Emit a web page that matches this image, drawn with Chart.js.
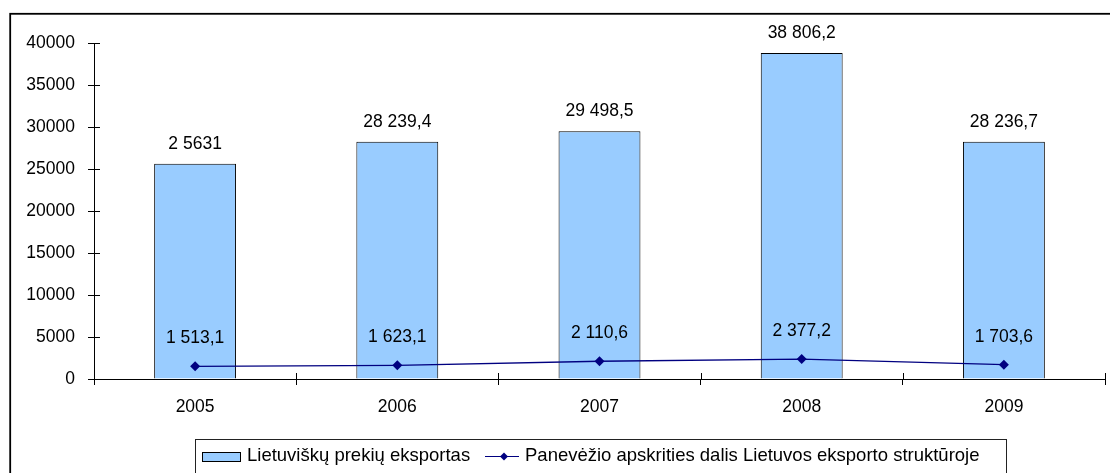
<!DOCTYPE html>
<html>
<head>
<meta charset="utf-8">
<script src="https://cdn.jsdelivr.net/npm/chart.js@4/dist/chart.umd.min.js"></script>
<style>
  html, body { margin: 0; padding: 0; background: #fff; }
  #wrap { width: 1110px; height: 473px; position: relative; }
</style>
</head>
<body>
<div id="wrap"><canvas id="c" width="1110" height="473"></canvas></div>
<script>
const categories = ['2005', '2006', '2007', '2008', '2009'];
const exportValues = [25631, 28239.4, 29498.5, 38806.2, 28236.7];
const exportLabels = ['2 5631', '28 239,4', '29 498,5', '38 806,2', '28 236,7'];
const shareValues = [1513.1, 1623.1, 2110.6, 2377.2, 1703.6];
const shareLabels = ['1 513,1', '1 623,1', '2 110,6', '2 377,2', '1 703,6'];
const seriesNames = ['Lietuviškų prekių eksportas', 'Panevėžio apskrities dalis Lietuvos eksporto struktūroje'];
const yTicks = [0, 5000, 10000, 15000, 20000, 25000, 30000, 35000, 40000];

const FONT = '"Liberation Sans", Arial, sans-serif';
const FS = 17.5;
const LFS = 18.5;

const framePlugin = {
  id: 'frame',
  beforeDraw(chart) {
    const ctx = chart.ctx;
    ctx.save();
    ctx.fillStyle = '#fff';
    ctx.fillRect(0, 0, chart.width, chart.height);
    ctx.strokeStyle = '#000';
    ctx.lineWidth = 1.8;
    ctx.strokeRect(10.2, 13.8, 1200, 600);
    ctx.restore();
  },
  afterDraw(chart) {
    const ctx = chart.ctx;
    const xs = chart.scales.x, ys = chart.scales.y;
    ctx.save();
    // inner halves of tick marks (reference ticks cross the axes)
    ctx.strokeStyle = '#000';
    ctx.lineWidth = 1;
    ctx.beginPath();
    yTicks.forEach(v => {
      const y = Math.round(ys.getPixelForValue(v)) + 0.5;
      ctx.moveTo(xs.left, y);
      ctx.lineTo(xs.left + 6, y);
    });
    const n = categories.length;
    for (let i = 0; i <= n; i++) {
      const x = Math.round(xs.left + (xs.right - xs.left) * i / n) + 0.5;
      ctx.moveTo(x, ys.bottom);
      ctx.lineTo(x, ys.bottom - 6);
    }
    ctx.stroke();

    ctx.font = FS + 'px ' + FONT;
    ctx.fillStyle = '#000';
    ctx.textAlign = 'center';
    ctx.textBaseline = 'middle';
    chart.data.datasets.forEach((ds, di) => {
      const meta = chart.getDatasetMeta(di);
      if (ds.type === 'bar') {
        meta.data.forEach((el, i) => ctx.fillText(exportLabels[i], el.x, el.y - 20));
      } else {
        meta.data.forEach((el, i) => ctx.fillText(shareLabels[i], el.x, el.y - 28));
      }
    });

    // legend
    ctx.font = LFS + 'px ' + FONT;
    ctx.strokeStyle = '#222';
    ctx.lineWidth = 1;
    ctx.strokeRect(195.5, 439.5, 811, 60);
    ctx.fillStyle = '#99ccff';
    ctx.fillRect(202, 452, 39, 10);
    ctx.strokeStyle = '#000';
    ctx.strokeRect(202.5, 452.5, 38, 9);
    ctx.fillStyle = '#000';
    ctx.textAlign = 'left';
    ctx.fillText(seriesNames[0], 247, 456);
    ctx.strokeStyle = '#000080';
    ctx.beginPath();
    ctx.moveTo(485, 456.5);
    ctx.lineTo(519, 456.5);
    ctx.stroke();
    ctx.fillStyle = '#000080';
    ctx.beginPath();
    ctx.moveTo(504, 452.5);
    ctx.lineTo(508, 456.5);
    ctx.lineTo(504, 460.5);
    ctx.lineTo(500, 456.5);
    ctx.closePath();
    ctx.fill();
    ctx.fillStyle = '#000';
    ctx.fillText(seriesNames[1], 525, 456);
    ctx.restore();
  }
};

new Chart(document.getElementById('c'), {
  data: {
    labels: categories,
    datasets: [
      {
        type: 'line',
        label: seriesNames[1],
        data: shareValues,
        borderColor: '#000080',
        backgroundColor: '#000080',
        borderWidth: 1.3,
        pointStyle: 'rectRot',
        pointRadius: 5,
        pointBorderWidth: 0,
        tension: 0,
        order: 0
      },
      {
        type: 'bar',
        label: seriesNames[0],
        data: exportValues,
        backgroundColor: '#99ccff',
        borderColor: '#000',
        borderWidth: 1,
        categoryPercentage: 1,
        barPercentage: 0.405,
        order: 1
      }
    ]
  },
  options: {
    responsive: false,
    animation: false,
    devicePixelRatio: 1,
    layout: { padding: { left: 10, top: 43, right: 1, bottom: 0 } },
    plugins: { legend: { display: false }, tooltip: { enabled: false } },
    scales: {
      x: {
        type: 'category',
        offset: true,
        grid: { display: true, drawOnChartArea: false, drawTicks: true, tickLength: 6, color: '#000', offset: true },
        border: { display: true, color: '#000', width: 1 },
        ticks: { color: '#000', font: { family: FONT, size: FS }, padding: 12 },
        afterFit(s) { s.height = 94; }
      },
      y: {
        min: 0,
        max: 40000,
        afterBuildTicks(s) { s.ticks = yTicks.map(v => ({ value: v })); },
        grid: { display: true, drawOnChartArea: false, drawTicks: true, tickLength: 6, color: '#000' },
        border: { display: true, color: '#000', width: 1 },
        ticks: { color: '#000', font: { family: FONT, size: FS }, padding: 13, callback: v => String(v) },
        afterFit(s) { s.width = 84; }
      }
    }
  },
  plugins: [framePlugin]
});
</script>
</body>
</html>
